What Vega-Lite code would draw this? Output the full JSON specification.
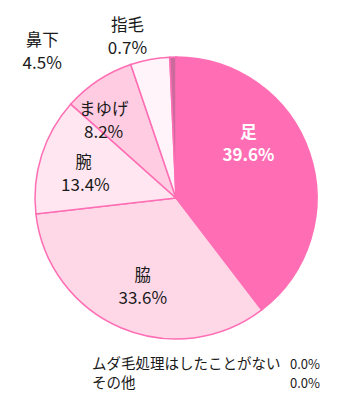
{
  "$schema": "https://vega.github.io/schema/vega-lite/v6.json",
  "width": 343,
  "height": 403,
  "autosize": {"type": "fit", "contains": "padding"},
  "padding": {"left": 9, "top": 0, "right": 0, "bottom": 7},
  "background": "white",
  "config": {"view": {"stroke": null}, "font": "Noto Sans CJK JP"},
  "data": {
    "values": [
      {"category": "足", "value": 0.396, "rank": 1},
      {"category": "脇", "value": 0.336, "rank": 2},
      {"category": "腕", "value": 0.134, "rank": 3},
      {"category": "まゆげ", "value": 0.082, "rank": 4},
      {"category": "鼻下", "value": 0.045, "rank": 5},
      {"category": "指毛", "value": 0.007, "rank": 6},
      {"category": "ムダ毛処理はしたことがない", "value": 0, "rank": 7},
      {"category": "その他", "value": 0, "rank": 8}
    ]
  },
  "layer": [
    {
      "transform": [{"filter": "datum.value > 0"}],
      "mark": {"type": "arc", "outerRadius": 141, "stroke": "#FF6EB4", "strokeWidth": 1.5},
      "encoding": {
        "theta": {"field": "value", "type": "quantitative", "stack": true},
        "order": {"field": "rank", "type": "quantitative"},
        "color": {
          "field": "category",
          "type": "nominal",
          "scale": {
            "domain": ["足", "脇", "腕", "まゆげ", "鼻下", "指毛"],
            "range": ["#FF6EB4", "#FFD8E8", "#FFE6F0", "#FFCCE1", "#FFF4F9", "#CC6A9E"]
          },
          "legend": null
        }
      }
    },
    {
      "transform": [{"filter": "datum.value > 0"}],
      "mark": {
        "type": "text",
        "fontSize": 16.5,
        "baseline": "middle",
        "align": "center",
        "radius": {"expr": "datum.category==='足'?86:datum.category==='脇'?95:datum.category==='腕'?94:datum.category==='まゆげ'?104:datum.category==='鼻下'?167:162"},
        "dx": {"expr": "datum.category==='足'?-9:datum.category==='脇'?4:datum.category==='腕'?-3:datum.category==='まゆげ'?-15:datum.category==='鼻下'?-103:-45"},
        "dy": {"expr": "(datum.category==='足'?-26:datum.category==='脇'?2:datum.category==='腕'?5:datum.category==='まゆげ'?10:datum.category==='鼻下'?19:1) - 11.5"},
        "fontWeight": {"expr": "datum.category==='足'?'bold':'normal'"}
      },
      "encoding": {
        "theta": {"field": "value", "type": "quantitative", "stack": true},
        "order": {"field": "rank", "type": "quantitative"},
        "text": {"field": "category", "type": "nominal"},
        "color": {"condition": {"test": "datum.category==='足'", "value": "white"}, "value": "#1a1a1a"}
      }
    },
    {
      "transform": [{"filter": "datum.value > 0"}],
      "mark": {
        "type": "text",
        "fontSize": 17,
        "baseline": "middle",
        "align": "center",
        "radius": {"expr": "datum.category==='足'?86:datum.category==='脇'?95:datum.category==='腕'?94:datum.category==='まゆげ'?104:datum.category==='鼻下'?167:162"},
        "dx": {"expr": "datum.category==='足'?-9:datum.category==='脇'?4:datum.category==='腕'?-1:datum.category==='まゆげ'?-15:datum.category==='鼻下'?-103:-45"},
        "dy": {"expr": "(datum.category==='足'?-26:datum.category==='脇'?2:datum.category==='腕'?5:datum.category==='まゆげ'?10:datum.category==='鼻下'?19:1) + 11.5"},
        "fontWeight": {"expr": "datum.category==='足'?'bold':'normal'"}
      },
      "encoding": {
        "theta": {"field": "value", "type": "quantitative", "stack": true},
        "order": {"field": "rank", "type": "quantitative"},
        "text": {"field": "value", "type": "quantitative", "format": ".1%"},
        "color": {"condition": {"test": "datum.category==='足'", "value": "white"}, "value": "#1a1a1a"}
      }
    },
    {
      "transform": [{"filter": "datum.value === 0"}],
      "mark": {"type": "text", "fontSize": 14.5, "align": "left", "baseline": "middle", "color": "#1a1a1a"},
      "encoding": {
        "x": {"datum": "name", "type": "nominal", "scale": {"type": "point", "padding": 0, "domain": ["name", "pct"], "range": [83, 311]}, "axis": null},
        "y": {"field": "category", "type": "nominal", "scale": {"type": "point", "padding": 0, "domain": ["ムダ毛処理はしたことがない", "その他"], "range": [365, 384]}, "axis": null},
        "text": {"field": "category", "type": "nominal"}
      }
    },
    {
      "transform": [{"filter": "datum.value === 0"}],
      "mark": {"type": "text", "fontSize": 13, "align": "right", "baseline": "middle", "color": "#1a1a1a"},
      "encoding": {
        "x": {"datum": "pct", "type": "nominal", "scale": {"type": "point", "padding": 0, "domain": ["name", "pct"], "range": [83, 311]}, "axis": null},
        "y": {"field": "category", "type": "nominal", "scale": {"type": "point", "padding": 0, "domain": ["ムダ毛処理はしたことがない", "その他"], "range": [365, 384]}, "axis": null},
        "text": {"field": "value", "type": "quantitative", "format": ".1%"}
      }
    }
  ]
}
